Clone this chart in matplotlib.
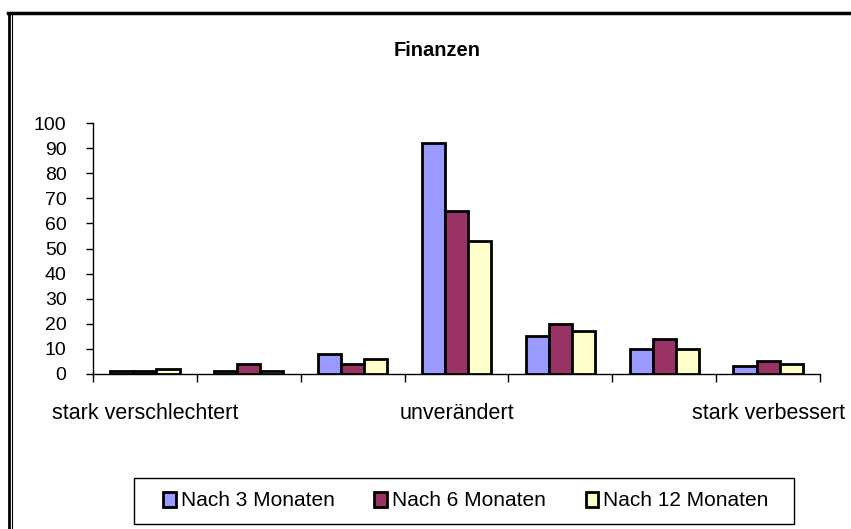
import matplotlib
matplotlib.use("Agg")
import matplotlib.pyplot as plt
import numpy as np
from matplotlib.lines import Line2D
from matplotlib.patches import Rectangle

plt.rcParams['font.family'] = ['Liberation Sans', 'DejaVu Sans']

categories = ["stark verschlechtert", "", "", "unverändert", "", "", "stark verbessert"]
series_names = ["Nach 3 Monaten", "Nach 6 Monaten", "Nach 12 Monaten"]
nach_3 = [1, 1, 8, 92, 15, 10, 3]
nach_6 = [1, 4, 4, 65, 20, 14, 5]
nach_12 = [2, 1, 6, 53, 17, 10, 4]
colors = ["#9999FF", "#993366", "#FFFFCC"]
title = "Finanzen"

W, H = 851, 529
fig = plt.figure(figsize=(W / 100, H / 100), dpi=100)
ax = fig.add_axes([93 / W, (H - 374) / H, (820 - 93) / W, (374 - 123) / H])

x = np.arange(len(categories))
bw = 0.222
for i, (vals, c, name) in enumerate(zip([nach_3, nach_6, nach_12], colors, series_names)):
    ax.bar(x + (i - 1) * bw, vals, width=bw, color=c, edgecolor="black",
           linewidth=2.0, label=name, zorder=3)

ax.set_xlim(-0.5, len(categories) - 0.5)
ax.set_ylim(0, 100)
ax.set_yticks(np.arange(0, 101, 10))
ax.tick_params(axis="y", direction="out", length=5, width=1, labelsize=14, pad=14)

ax.set_xticks(np.arange(-0.5, len(categories), 1.0))
ax.set_xticklabels([])
ax.tick_params(axis="x", which="major", direction="out", length=6, width=1)
lab_idx = [i for i, c in enumerate(categories) if c]
ax.set_xticks(lab_idx, minor=True)
ax.set_xticklabels([categories[i] for i in lab_idx], minor=True)
ax.tick_params(axis="x", which="minor", length=0, labelsize=15.5, pad=21)

for s in ["top", "right"]:
    ax.spines[s].set_visible(False)
for s in ["left", "bottom"]:
    ax.spines[s].set_linewidth(1)
    ax.spines[s].set_color("black")

fig.text(437 / W, 1 - 50 / H, title, ha="center", va="center",
         fontsize=14.5, fontweight="bold")

# legend box
fig.patches.append(Rectangle((134 / W, (H - 524) / H), (794 - 134) / W, (524 - 478) / H,
                             transform=fig.transFigure, fill=False, edgecolor="black",
                             linewidth=1))
handles, labels = ax.get_legend_handles_labels()
leg = fig.legend(handles, labels, loc="center", ncol=3,
                 bbox_to_anchor=(466 / W, 1 - 501 / H), frameon=False,
                 fontsize=15, handlelength=0.6, handleheight=0.7,
                 handletextpad=0.25, columnspacing=1.9)

# chart outer border
fig.add_artist(Line2D([8 / W, 1], [1 - 13 / H, 1 - 13 / H], transform=fig.transFigure,
                      color="black", linewidth=2.5))
fig.add_artist(Line2D([9 / W, 9 / W], [0, 1 - 13 / H], transform=fig.transFigure,
                      color="black", linewidth=2))
fig.add_artist(Line2D([11.7 / W, 11.7 / W], [0, 1 - 14 / H], transform=fig.transFigure,
                      color="black", linewidth=0.8))

fig.savefig("out.png", dpi=100)
